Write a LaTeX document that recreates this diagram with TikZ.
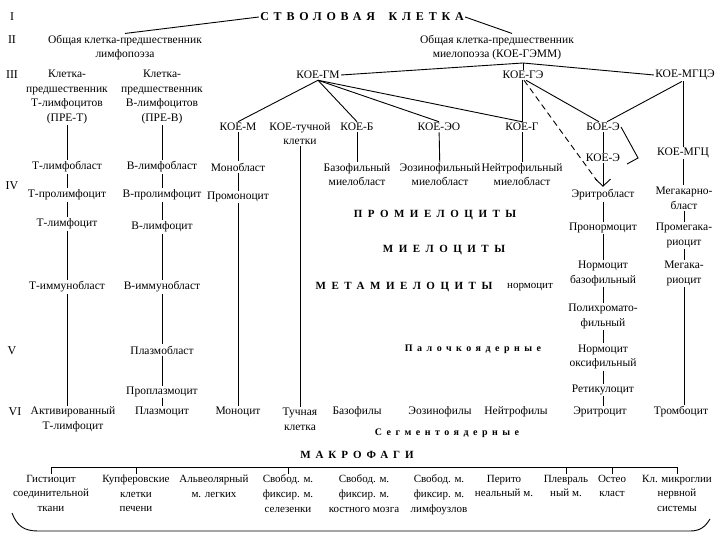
\documentclass[tikz,border=0pt]{standalone}
\usepackage{fontspec}
\setmainfont{Liberation Serif}
\usetikzlibrary{arrows.meta,calc,backgrounds}
\begin{document}
\begin{tikzpicture}[x=1pt,y=-1pt,
  every node/.style={font=\fontsize{11.5}{14.6}\selectfont, inner sep=1.2pt, align=center},
  lbl/.style={fill=white},
  num/.style={font=\fontsize{12}{14}\selectfont},
  ln/.style={line width=0.9pt},
  bigrow/.style={fill=white, inner sep=1pt, font=\fontsize{11}{13}\selectfont\bfseries\addfontfeature{LetterSpace=50}},
  smallrow/.style={fill=white, inner sep=1pt, font=\fontsize{10}{12}\selectfont\bfseries\addfontfeature{LetterSpace=45}},
  mac/.style={anchor=north, fill=white, inner sep=0.8pt, font=\fontsize{11}{14.6}\selectfont},
  tick/.style={line width=0.8pt}
]
\useasboundingbox (0,0) rectangle (720,540);
\fill[white] (0,0) rectangle (720,540);

% Roman numerals
\node[num] (nI) at (12,17) {I};
\node[num] (nII) at (12,40) {II};
\node[num] (nIII) at (12,75) {III};
\node[num] (nIV) at (12,186) {IV};
\node[num] (nV) at (12,351) {V};
\node[num] (nVI) at (15,412) {VI};

% Level I-II
\node[lbl, font=\fontsize{12}{14}\selectfont\bfseries\addfontfeature{LetterSpace=40}] (stem) at (362,17) {СТВОЛОВАЯ\hspace{6pt} КЛЕТКА};
\node[lbl] (lymph) at (125,47.5) {Общая клетка-предшественник\\лимфопоэза};
\node[lbl] (myelo) at (497,47.5) {Общая клетка-предшественник\\миелопоэза (КОЕ-ГЭММ)};

% Level III
\node[lbl] (preT) at (67,97) {Клетка-\\предшественник\\Т-лимфоцитов\\(ПРЕ-Т)};
\node[lbl] (preB) at (162,97) {Клетка-\\предшественник\\В-лимфоцитов\\(ПРЕ-В)};
\node[lbl] (gm) at (318,75) {КОЕ-ГМ};
\node[lbl] (ge) at (523,75) {КОЕ-ГЭ};
\node[lbl] (mgce) at (685,75) {КОЕ-МГЦЭ};
\coordinate (hub) at (523,63);

\node[lbl] (m) at (238,127) {КОЕ-М};
\node[lbl] (mast) at (300,133.5) {КОЕ-тучной\\клетки};
\node[lbl] (b) at (357,127) {КОЕ-Б};
\node[lbl] (eo) at (439,127) {КОЕ-ЭО};
\node[lbl] (g) at (522,127) {КОЕ-Г};
\node[lbl] (boe) at (603,127) {БОЕ-Э};
\node[lbl] (koee) at (603,158) {КОЕ-Э};
\node[lbl] (mgc) at (683,153) {КОЕ-МГЦ};

% Level IV
\node[lbl] (tlb) at (67,167) {Т-лимфобласт};
\node[lbl] (tpl) at (67,195) {Т-пролимфоцит};
\node[lbl] (tl) at (67,224) {Т-лимфоцит};
\node[lbl] (tib) at (67,287) {Т-иммунобласт};
\node[lbl] (tact) at (73,419.5) {Активированный\\Т-лимфоцит};

\node[lbl] (blb) at (162,167) {В-лимфобласт};
\node[lbl] (bpl) at (162,195) {В-пролимфоцит};
\node[lbl] (bl) at (162,227) {В-лимфоцит};
\node[lbl] (bib) at (162,287) {В-иммунобласт};
\node[lbl] (plb) at (162,350) {Плазмобласт};
\node[lbl, inner sep=0.5pt] (ppl) at (162,392) {Проплазмоцит};
\node[lbl, inner sep=0.5pt] (plc) at (162,412) {Плазмоцит};

\node[lbl] (mb) at (238,167) {Монобласт};
\node[lbl] (pm) at (238,197) {Промоноцит};
\node[lbl] (mono) at (238,412) {Моноцит};

\node[lbl] (mastc) at (300,419.5) {Тучная\\клетка};

\node[lbl, inner sep=0.5pt] (bmb) at (357,174.5) {Базофильный\\миелобласт};
\node[lbl] (baso) at (357,412) {Базофилы};
\node[lbl, inner sep=0.5pt] (eomb) at (440,174.5) {Эозинофильный\\миелобласт};
\node[lbl] (eos) at (440,412) {Эозинофилы};
\node[lbl, inner sep=0.5pt] (nmb) at (522,174.5) {Нейтрофильный\\миелобласт};
\node[lbl] (neut) at (516,412) {Нейтрофилы};

\node[bigrow] (prom) at (435,215) {ПРОМИЕЛОЦИТЫ};
\node[bigrow] (miel) at (444,250) {МИЕЛОЦИТЫ};
\node[bigrow] (meta) at (404,287) {МЕТАМИЕЛОЦИТЫ};
\node[lbl, font=\fontsize{11}{13}\selectfont] (norm) at (530,287) {нормоцит};
\node[smallrow] (pal) at (473,349) {Палочкоядерные};
\node[smallrow] (seg) at (447,433) {Сегментоядерные};

\node[lbl] (eryb) at (603,195) {Эритробласт};
\node[lbl] (pron) at (603,228) {Пронормоцит};
\node[lbl] (nbaso) at (603,273.5) {Нормоцит\\базофильный};
\node[lbl] (poly) at (603,316.5) {Полихромато-\\фильный};
\node[lbl] (noxy) at (603,357) {Нормоцит\\оксифильный};
\node[lbl, inner sep=0.5pt] (ret) at (603,390) {Ретикулоцит};
\node[lbl, inner sep=0.5pt] (eryc) at (600,412) {Эритроцит};

\node[lbl] (mgkb) at (684,198) {Мегакарно-\\бласт};
\node[lbl] (pmgk) at (684,235.5) {Промегака-\\риоцит};
\node[lbl] (mgk) at (684,273.5) {Мегака-\\риоцит};
\node[lbl] (thr) at (681,412) {Тромбоцит};

% Macrophages
\node[bigrow, font=\fontsize{11}{13}\selectfont\bfseries\addfontfeature{LetterSpace=45}] (macro) at (357,455) {МАКРОФАГИ};
\coordinate (br) at (0,467);
\node[mac] (m1) at (51,474) {Гистиоцит\\соединительной\\ткани};
\node[mac] (m2) at (136,474) {Купферовские\\клетки\\печени};
\node[mac] (m3) at (214,474) {Альвеолярный\\м. легких};
\node[mac] (m4) at (288,474) {Свобод. м.\\фиксир. м.\\селезенки};
\node[mac] (m5) at (364,474) {Свобод. м.\\фиксир. м.\\костного мозга};
\node[mac] (m6) at (439,474) {Свобод. м.\\фиксир. м.\\лимфоузлов};
\node[mac] (m7) at (504,474) {Перито\\неальный м.};
\node[mac] (m8) at (566,474) {Плевраль\\ный м.};
\node[mac] (m9) at (612,474) {Остео\\класт};
\node[mac] (m10) at (677,474) {Кл. микроглии\\нервной\\системы};

\coordinate (etip) at ([yshift=1.5pt]eryb.north);

% ---------- connectors ----------
\begin{scope}[ln]
\draw (stem.west) -- (lymph.north);
\draw (stem.east) -- ($(myelo.north)+(15,0)$);
\draw (gm.east) -- (hub) -- (mgce.west);
\draw (hub) -- (ge.north);

\draw (gm.south) -- (m.north);
\draw (gm.south) -- (b.north);
\draw (gm.south) -- (eo.north);
\draw (gm.south) -- (g.north);
\draw (g.north |- ge.south) -- (g.north);
\draw ([xshift=3pt]ge.south) -- ([xshift=-4pt]boe.north);
\draw ([xshift=-3pt]mgce.south) -- ([xshift=4pt]boe.north);
\draw (mgc.north |- mgce.south) -- (mgc.north);
\draw (boe) -- (koee);
\draw (boe.east) -- ++(17,31) -- ++(-11,6);
\draw[-{Straight Barb[length=7pt,width=15pt]}] (koee) -- (etip);
\draw[dash pattern=on 6pt off 4pt] ([xshift=1pt]ge.south) -- ([xshift=-6pt,yshift=6pt]etip);

% T column
\draw (preT) -- (tlb);
\draw (tlb) -- (tpl);
\draw (tpl) -- (tl);
\draw (tl) -- (tib);
\draw (tib) -- (tib |- tact.north);
% B column
\draw (preB) -- (blb);
\draw (blb) -- (bpl);
\draw (bpl) -- (bl);
\draw (bl) -- (bib);
\draw (bib) -- (plb);
\draw (plb) -- (ppl);
\draw (ppl) -- (plc);
% mono
\draw (m) -- (mb);
\draw (mb) -- (pm);
\draw (pm) -- (mono);
% mast
\draw (mast) -- (mastc);
% granulocytes
\draw (b) -- (bmb);
\draw (eo) -- (eomb);
\draw (g) -- (nmb);
% erythro
\draw (eryb) -- (pron);
\draw (pron) -- (nbaso);
\draw (nbaso) -- (poly);
\draw (poly) -- (noxy);
\draw (noxy) -- (ret);
\draw (ret) -- (ret |- eryc.north);
% mega
\draw (mgc) -- (mgc |- mgkb.north);
\draw (mgkb) -- (mgkb |- pmgk.north);
\draw (pmgk) -- (pmgk |- mgk.north);
\draw (mgk) -- (mgk |- thr.north);

% macrophage bracket
\draw[tick] (m1.north |- br) -- (m10.north |- br);
\foreach \n in {m1,m2,m4,m8,m9,m10} \draw[tick] (\n.north |- br) -- ($(\n.north |- br)+(0,7)$);
\draw (12,513) .. controls (17,526) and (24,531) .. (38,531) -- (690,531) .. controls (700,531) and (705,527) .. (710,519);
\end{scope}

\begin{scope}[on background layer, ln]
\draw (bmb) -- (baso);
\draw (eomb) -- (eos);
\draw (nmb) -- (nmb |- neut.north);
\end{scope}
\end{tikzpicture}
\end{document}
